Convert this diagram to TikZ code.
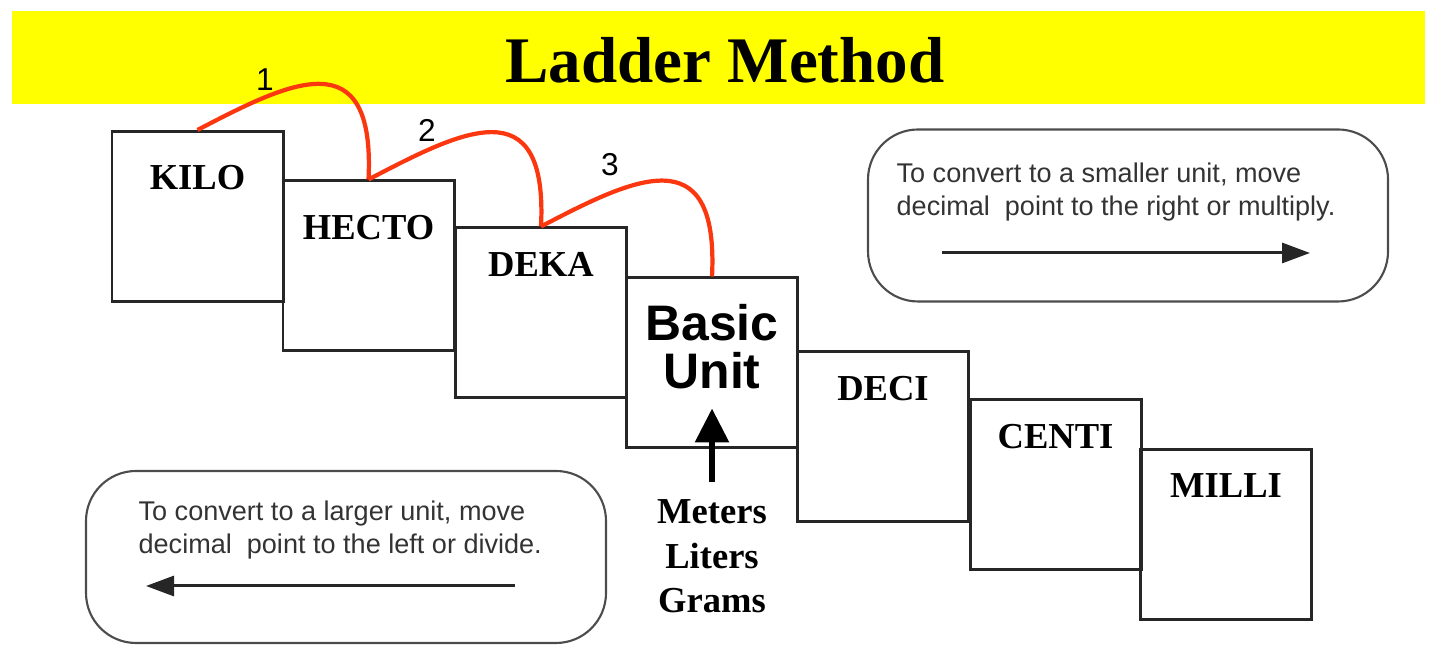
\documentclass[tikz,border=0pt]{standalone}
\usepackage{fontspec}
\setmainfont{Liberation Serif}
\setsansfont{Liberation Sans}
\usetikzlibrary{arrows.meta}
\definecolor{banner}{RGB}{255,255,0}
\definecolor{jump}{RGB}{250,55,15}
\tikzset{
    plainbox/.style={draw=black!85, line width=0.85pt, minimum width=1.71cm, minimum height=1.70cm, inner sep=0pt},
    prefixname/.style={anchor=north, yshift=-0.25cm, inner sep=0pt, font=\bfseries\fontsize{10.4}{12}\selectfont},
    unitbox/.style={plainbox, label={[prefixname]north:#1}},
    deepbox/.style={plainbox, label={[prefixname, yshift=-0.1cm]north:#1}},
    basicname/.style={anchor=center, yshift=0.16cm, align=center, inner sep=0pt, font=\sffamily\bfseries\fontsize{14.2}{13.7}\selectfont},
    rulebox/.style={draw=black!70, line width=0.6pt, rounded corners=0.5cm, minimum width=5.2cm, minimum height=1.72cm},
    ruletext/.style={anchor=north west, align=left, inner sep=0pt, text=black!80, font=\sffamily\fontsize{7.7}{9.4}\selectfont},
    jumpline/.style={draw=jump, line width=1.2pt},
    stepnum/.style={font=\sffamily\fontsize{9}{10}\selectfont},
    thinarrow/.style={draw=black!85, line width=0.85pt, -{Triangle[length=0.28cm,width=0.2cm]}},
    bigarrow/.style={line width=1.7pt, -{Triangle[length=0.34cm,width=0.33cm]}},
}
\begin{document}
\begin{tikzpicture}
\useasboundingbox (0,0) rectangle (14.33,6.45);
\fill[banner] (0.12,5.41) rectangle (14.25,6.34);
\node[font=\bfseries\fontsize{18.5}{20}\selectfont] (title) at (7.25,5.85) {Ladder Method};

\node[deepbox=KILO] (kilo) at (1.975,4.285) {};
\node[deepbox=HECTO] (hecto) at (3.685,3.79) {};
\node[unitbox=DEKA] (deka) at (5.41,3.32) {};
\node[plainbox, label={[basicname]center:Basic\\Unit}] (basic) at (7.12,2.82) {};
\node[unitbox=DECI] (deci) at (8.83,2.08) {};
\node[unitbox=CENTI] (centi) at (10.555,1.60) {};
\node[unitbox=MILLI] (milli) at (12.26,1.105) {};

\draw[jumpline] (kilo.north) .. controls +(0.92,0.48) and +(0.07,1.41) .. (hecto.north);
\draw[jumpline] (hecto.north) .. controls +(0.92,0.48) and +(0.07,1.41) .. (deka.north);
\draw[jumpline] (deka.north) .. controls +(0.92,0.48) and +(0.07,1.41) .. (basic.north);
\node[stepnum] (one) at (2.65,5.65) {1};
\node[stepnum] (two) at (4.27,5.15) {2};
\node[stepnum] (three) at (6.10,4.80) {3};

\node[inner sep=0pt, align=center, font=\bfseries\fontsize{10.4}{12.7}\selectfont] (units) at (7.12,0.885) {Meters\\Liters\\Grams};
\draw[bigarrow] ([yshift=0.17cm]units.north) -- ([yshift=0.41cm]basic.south);

\node[rulebox] (smaller) at (11.28,4.295) {};
\node[ruletext] (smallertext) at ([xshift=0.29cm,yshift=-0.34cm]smaller.north west) {To convert to a smaller unit, move\\decimal\ \ point to the right or multiply.};
\draw[thinarrow] ([xshift=-1.86cm,yshift=-0.375cm]smaller.center) -- ([xshift=1.82cm,yshift=-0.375cm]smaller.center);

\node[rulebox] (larger) at (3.46,0.88) {};
\node[ruletext] (largertext) at ([xshift=0.53cm,yshift=-0.30cm]larger.north west) {To convert to a larger unit, move\\decimal\ \ point to the left or divide.};
\draw[thinarrow] ([xshift=1.69cm,yshift=-0.29cm]larger.center) -- ([xshift=-2.00cm,yshift=-0.29cm]larger.center);
\end{tikzpicture}
\end{document}
